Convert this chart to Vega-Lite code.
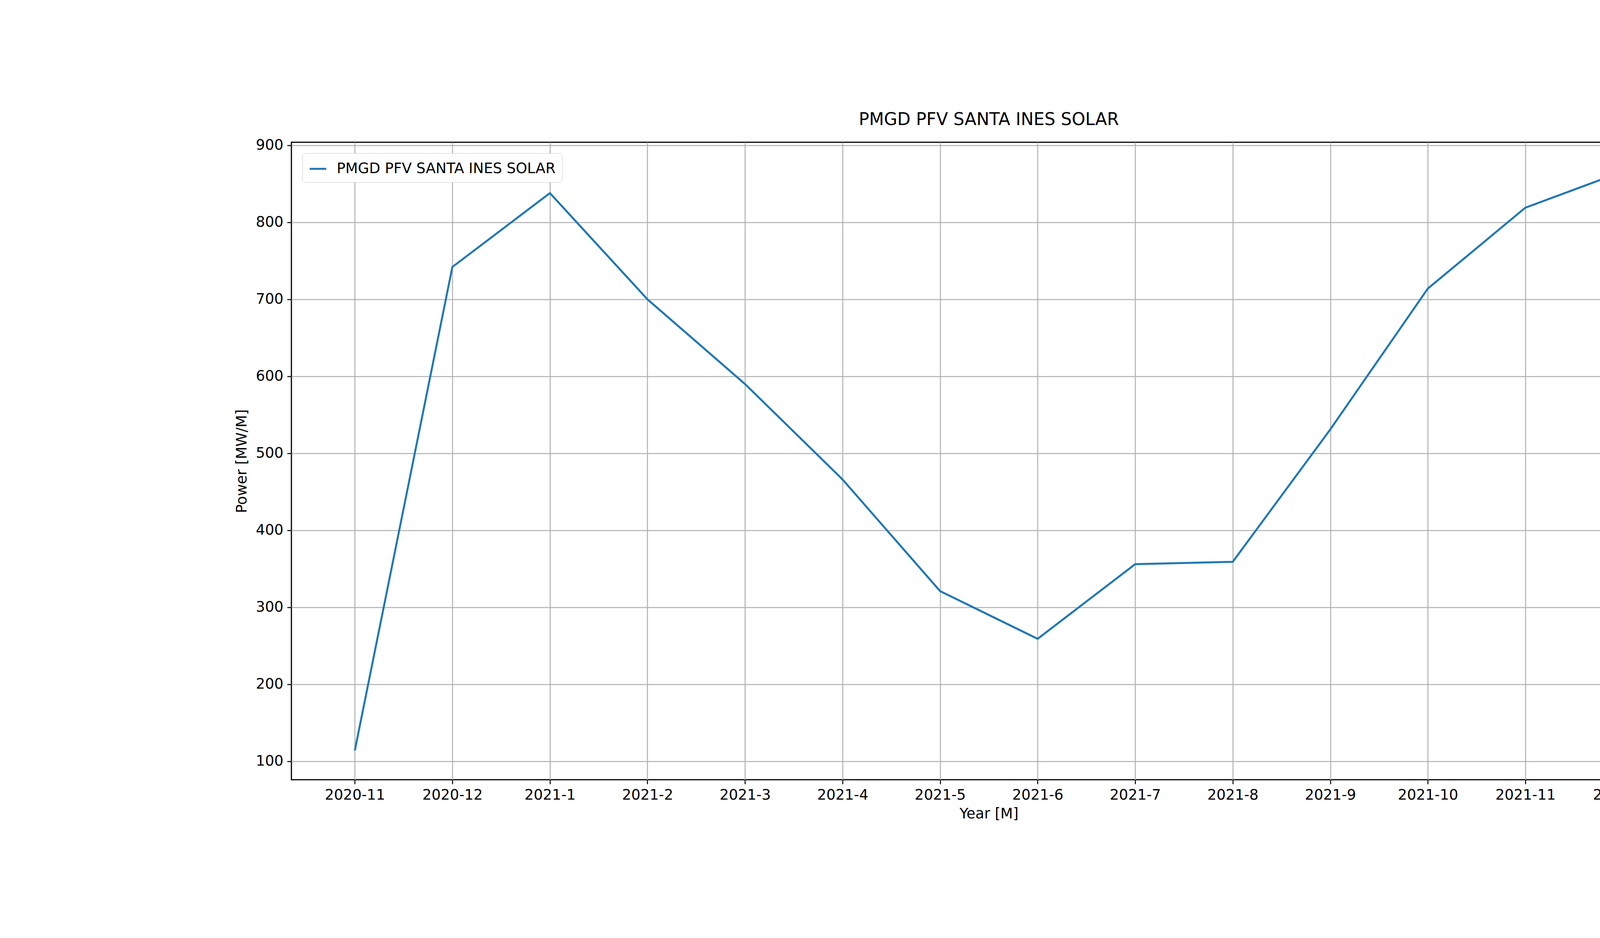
{
  "$schema": "https://vega.github.io/schema/vega-lite/v6.json",
  "autosize": {"type": "fit", "contains": "padding"},
  "width": 4800,
  "height": 2400,
  "padding": {"left": 600, "top": 288, "right": 483, "bottom": 300},
  "background": "white",
  "title": {"text": "PMGD PFV SANTA INES SOLAR", "fontSize": 44, "font": "DejaVu Sans", "fontWeight": "normal", "offset": 24},
  "config": {
    "font": "DejaVu Sans",
    "view": {"stroke": "black", "strokeWidth": 3},
    "axis": {
      "labelFontSize": 37, "titleFontSize": 37, "titleFontWeight": "normal",
      "labelColor": "black", "titleColor": "black",
      "domain": false, "tickColor": "black", "tickSize": 11, "tickWidth": 2.5,
      "gridColor": "#b0b0b0", "gridWidth": 2.5, "labelPadding": 10
    }
  },
  "data": {"values": [
    {"month": "2020-11", "power": 114, "series": "PMGD PFV SANTA INES SOLAR"},
    {"month": "2020-12", "power": 742, "series": "PMGD PFV SANTA INES SOLAR"},
    {"month": "2021-1", "power": 838, "series": "PMGD PFV SANTA INES SOLAR"},
    {"month": "2021-2", "power": 700, "series": "PMGD PFV SANTA INES SOLAR"},
    {"month": "2021-3", "power": 590, "series": "PMGD PFV SANTA INES SOLAR"},
    {"month": "2021-4", "power": 466, "series": "PMGD PFV SANTA INES SOLAR"},
    {"month": "2021-5", "power": 321, "series": "PMGD PFV SANTA INES SOLAR"},
    {"month": "2021-6", "power": 259, "series": "PMGD PFV SANTA INES SOLAR"},
    {"month": "2021-7", "power": 356, "series": "PMGD PFV SANTA INES SOLAR"},
    {"month": "2021-8", "power": 359, "series": "PMGD PFV SANTA INES SOLAR"},
    {"month": "2021-9", "power": 531, "series": "PMGD PFV SANTA INES SOLAR"},
    {"month": "2021-10", "power": 714, "series": "PMGD PFV SANTA INES SOLAR"},
    {"month": "2021-11", "power": 819, "series": "PMGD PFV SANTA INES SOLAR"},
    {"month": "2021-12", "power": 866, "series": "PMGD PFV SANTA INES SOLAR"}
  ]},
  "mark": {"type": "line", "strokeWidth": 5},
  "encoding": {
    "x": {"field": "month", "type": "ordinal", "sort": null, "title": "Year [M]",
      "scale": {"type": "point", "padding": 0.65},
      "axis": {"labelAngle": 0, "grid": true, "titlePadding": 12}},
    "y": {"field": "power", "type": "quantitative", "title": "Power [MW/M]",
      "scale": {"domain": [76, 904], "nice": false, "zero": false},
      "axis": {"values": [100, 200, 300, 400, 500, 600, 700, 800, 900], "titlePadding": 16}},
    "color": {"field": "series", "type": "nominal", "title": null,
      "scale": {"range": ["#1f77b4"]},
      "legend": {"orient": "top-left", "offset": 28, "symbolType": "stroke", "symbolStrokeWidth": 5,
        "symbolSize": 1800, "labelFontSize": 37, "labelColor": "black", "labelLimit": 0, "padding": 16,
        "strokeColor": "#cccccc", "fillColor": "white", "cornerRadius": 8, "labelOffset": 24}}
  }
}
